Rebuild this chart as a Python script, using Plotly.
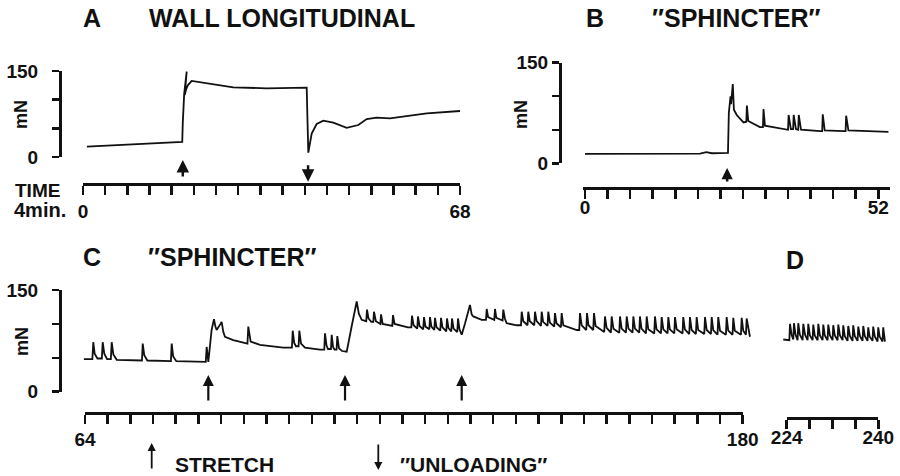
import plotly.graph_objects as go

W, H = 900, 476
FONT = "Liberation Sans, Arial, Helvetica, sans-serif"
INK = "#111111"

# ---------------- data (time in min, force in mN) ----------------
# A: wall longitudinal muscle
a_time = [0.7, 17.9, 18.0, 18.25, 18.7, 18.5, 18.35, 18.6, 18.9, 19.6,
          22.3, 27.1, 33.1, 39.1, 40.35, 40.5, 40.64, 41.25, 42.15, 43.34,
          45.15, 47.56, 49.66, 51.17, 52.98, 55.37, 58.39, 62.0, 68.0]
a_force = [18, 26.5, 60, 110, 149, 120, 108, 118, 125, 132.6,
           128.5, 121.5, 119.8, 119.8, 121, 60, 7.5, 41, 57.6, 63.3,
           60, 51, 55.8, 66.3, 68.6, 67.5, 71.5, 76.2, 80.2]
a_stretch = [18.0]
a_unload = [40.6]

# B: "sphincter"
b_time = [0.0, 20.4, 21.5, 22.5, 25.35, 25.5, 25.8, 25.9, 26.2, 26.4,
          26.9, 28.1, 28.6, 28.7, 28.95, 31.0, 31.55, 31.65, 31.9, 35.5,
          36.0, 36.1, 36.5, 36.9, 37.0, 37.4, 37.8, 37.9, 38.3, 41.7,
          42.05, 42.15, 42.5, 45.8, 46.2, 46.3, 46.7, 53.8]
b_force = [14, 14.5, 16.5, 15, 15.5, 75, 100, 88, 118, 80,
           72, 61, 62, 86, 63, 54, 54, 81, 56, 50,
           50, 72, 51, 51, 72, 51, 50, 72, 50, 48,
           48, 73, 49, 48, 48, 71, 49, 47]
b_stretch = [25.2]

# C: "sphincter", successive stretches
c_time = [63.8, 65.3, 65.46, 65.7, 66.2, 66.97, 67.12, 67.4, 67.9, 68.56, 68.71, 69.0, 69.6,
          74.05, 74.18, 74.45, 75.0, 79.15, 79.29, 79.55, 80.1, 85.3, 85.46, 85.6, 85.75,
          86.33, 86.75, 87.0, 87.22, 87.9, 88.1, 88.4, 88.69, 90.15, 92.65, 92.8, 93.05, 93.22, 94.86,
          98.97, 100.5, 100.63, 100.9, 101.21, 101.67, 101.8, 102.1, 102.8, 105.45, 106.2, 106.33,
          106.6, 106.86, 107.38, 107.51, 107.75, 108.0, 108.37, 108.5, 108.8, 109.33, 110.16,
          111.0, 111.92, 112.3, 112.8, 113.6, 113.74, 114.0, 114.5, 114.85, 114.97, 115.3, 116.1,
          116.21, 116.5, 118.2, 118.32, 118.6,
          120.97, 121.55, 121.67, 121.95, 122.6, 122.73, 123.0, 123.65, 123.79, 124.05, 124.73,
          124.85, 125.1, 125.6, 125.73, 126.0, 126.66, 126.79, 127.05, 127.72, 127.85, 128.1,
          128.6, 128.73, 129.0, 129.66, 129.79, 130.05, 130.44,
          131.0, 131.9, 132.2, 132.48, 133.97, 134.72, 134.85, 135.1, 136.18, 136.31,
          136.55, 137.65, 137.78, 138.05, 138.37, 140.14, 140.9, 141.02, 141.3, 142.05,
          142.18, 142.45, 143.24, 143.37, 143.65, 144.42, 144.55, 144.8, 145.58, 145.71,
          146.0, 146.76, 146.89, 147.15, 147.94, 148.07, 148.36,
          150.72, 151.17, 151.3, 151.6, 152.41, 152.54, 152.8, 153.64, 153.77, 154.05,
          155.58, 155.71, 156.0, 156.76, 156.89, 157.2, 158.23, 158.36, 158.65,
          159.41, 159.54, 159.85, 160.58, 160.71, 161.0, 161.75, 161.88, 162.15,
          162.94, 163.07, 163.35, 164.4, 164.53, 164.8, 165.58, 165.71, 166.0,
          166.75, 166.88, 167.15, 167.93, 168.06, 168.35, 169.39, 169.52, 169.8,
          170.57, 170.7, 171.0, 171.75, 171.88, 172.15, 173.22, 173.35, 173.65,
          174.4, 174.53, 174.8, 175.56, 175.69, 176.0, 177.04, 177.17, 177.45,
          178.21, 178.34, 178.6, 179.69, 179.82, 180.1, 180.57, 180.7, 181.0,
          181.28]
c_force = [48, 48, 73, 56, 49, 49, 73, 56, 48, 48, 73, 55, 47,
           46, 71, 54, 46, 45, 71, 52, 45, 44, 66, 47, 44,
           91, 107, 96, 91, 100, 103, 88, 81, 76, 71, 96, 78, 74, 69,
           65, 65, 90, 72, 67, 67, 90, 71, 65, 62, 62, 86,
           68, 63, 63, 84, 66, 62, 62, 82, 64, 60, 59,
           95, 133, 115, 106, 104, 121, 108, 103, 103, 118, 104, 100,
           114, 100, 97, 113, 100,
           95, 95, 112, 98, 93, 111, 97, 92, 110, 96, 92,
           110, 96, 91, 109, 95, 90, 109, 95, 89, 108, 94,
           89, 108, 93, 88, 108, 92, 84,
           100, 128, 114, 111, 106, 106, 122, 110, 106, 122,
           109, 105, 121, 108, 101, 98, 98, 118, 104, 98,
           118, 104, 98, 118, 104, 97, 118, 103, 97, 118,
           102, 96, 116, 101, 95, 116, 98,
           91, 91, 116, 98, 91, 116, 98, 91, 116, 97,
           88, 111, 94, 87, 111, 93, 87, 111, 93,
           87, 111, 93, 87, 111, 93, 87, 111, 93,
           86, 111, 92, 86, 111, 92, 86, 110, 92,
           86, 110, 92, 86, 110, 92, 86, 110, 92,
           85, 110, 91, 85, 110, 91, 85, 110, 91,
           85, 110, 91, 84, 110, 90, 84, 110, 90,
           84, 109, 90, 84, 109, 90, 84, 108, 90,
           81]
c_stretch = [85.75, 109.86, 130.44]

# D: later recording
d_time = [223.4,
          224.46, 224.58, 224.85, 225.15, 225.27, 225.55, 225.9, 226.02, 226.3,
          226.78, 226.9, 227.2, 227.65, 227.77, 228.05, 228.52, 228.64, 228.9,
          229.4, 229.52, 229.8, 230.27, 230.39, 230.65, 231.14, 231.26, 231.55,
          232.01, 232.13, 232.4, 232.89, 233.01, 233.3, 233.76, 233.88, 234.15,
          234.63, 234.75, 235.05, 235.5, 235.62, 235.9, 236.38, 236.5, 236.8,
          237.25, 237.37, 237.65, 238.12, 238.24, 238.5, 238.99, 239.11, 239.4,
          239.87, 239.99, 240.25, 240.74, 240.86, 241.16]
d_force = [77,
           76, 100, 84, 77, 101, 84, 76, 101, 84,
           76, 100, 84, 76, 100, 83, 76, 99, 83,
           76, 100, 83, 76, 99, 83, 76, 99, 83,
           76, 98, 83, 76, 99, 83, 76, 98, 82,
           75, 97, 82, 75, 98, 82, 75, 96, 82,
           75, 97, 82, 75, 95, 81, 75, 96, 81,
           74, 95, 81, 74, 95, 74]

a_ticks = list(range(0, 69, 4))
b_ticks = list(range(0, 53, 4))
c_ticks = list(range(64, 181, 4))
d_ticks = list(range(224, 241, 4))
force_ticks = [0, 50, 100, 150]
force_labels = ["0", "", "", "150"]


# ---------------- layout helpers (pixel geometry) ----------------
def fx(p):
    return p / W


def fy(p):
    return 1 - p / H


def span(lo, hi, p0, t0, p1, t1):
    k = (t1 - t0) / (p1 - p0)
    return [t0 + (lo - p0) * k, t0 + (hi - p0) * k]


def tick_text(vals):
    return [str(v) if i in (0, len(vals) - 1) else "" for i, v in enumerate(vals)]


def bold(size):
    return dict(family=FONT, size=size, color=INK, weight="bold")


def time_axis(p_lo, p_hi, rng, line_py, ticks, standoff):
    return dict(domain=[fx(p_lo), fx(p_hi)], range=rng, anchor="free", position=fy(line_py),
                showline=True, linecolor=INK, linewidth=3, ticks="outside", ticklen=9,
                tickwidth=2.5, tickcolor=INK, tickvals=ticks, ticktext=tick_text(ticks),
                tickfont=bold(19), ticklabelstandoff=standoff, showgrid=False,
                zeroline=False, fixedrange=True, automargin=False)


def force_axis(top_py, bot_py, line_px, standoff):
    return dict(domain=[fy(bot_py), fy(top_py)], range=[0, 150], anchor="free",
                position=fx(line_px), showline=True, linecolor=INK, linewidth=2.5,
                ticks="outside", ticklen=7, tickwidth=2.5, tickcolor=INK,
                tickvals=force_ticks, ticktext=force_labels, tickfont=bold(19),
                ticklabelstandoff=standoff, showgrid=False, zeroline=False,
                fixedrange=True, automargin=False)


def hidden_axis(p_lo, p_hi, rng):
    return dict(domain=[fx(p_lo), fx(p_hi)], range=rng, visible=False, anchor="free",
                position=0, fixedrange=True, automargin=False)


line_style = dict(color=INK, width=1.8)

fig = go.Figure()
fig.add_trace(go.Scatter(x=a_time, y=a_force, xaxis="x", yaxis="y", mode="lines", line=line_style))
fig.add_trace(go.Scatter(x=b_time, y=b_force, xaxis="x2", yaxis="y2", mode="lines", line=line_style))
fig.add_trace(go.Scatter(x=c_time, y=c_force, xaxis="x3", yaxis="y3", mode="lines", line=line_style))
fig.add_trace(go.Scatter(x=[c_ticks[0], c_ticks[-1]], y=[0, 0], xaxis="x4", yaxis="y3",
                         mode="markers", marker=dict(opacity=0)))
fig.add_trace(go.Scatter(x=d_time, y=d_force, xaxis="x5", yaxis="y3", mode="lines", line=line_style))
fig.add_trace(go.Scatter(x=[d_ticks[0], d_ticks[-1]], y=[0, 0], xaxis="x6", yaxis="y3",
                         mode="markers", marker=dict(opacity=0)))
fig.update_traces(hoverinfo="skip", showlegend=False)


def arrow(x, xref, head_py, dy, width=2.5, size=1.0):
    return dict(x=x, xref=xref, y=fy(head_py), yref="paper", ax=0, ay=dy, text="",
                showarrow=True, arrowhead=2, arrowsize=size, arrowwidth=width,
                arrowcolor=INK, standoff=0)


def label(text, px, py, size, xanchor="center", angle=0):
    return dict(text=text, x=fx(px), y=fy(py), xref="paper", yref="paper", xanchor=xanchor,
                yanchor="middle", showarrow=False, textangle=angle, font=bold(size))


ann = []
ann += [arrow(t, "x", 160, 18) for t in a_stretch]
ann += [arrow(t, "x", 181.7, -18) for t in a_unload]
ann += [arrow(t, "x2", 168, 15, width=2.5, size=0.9) for t in b_stretch]
ann += [arrow(t, "x3", 375, 27, width=2.2) for t in c_stretch]
ann += [arrow(fx(151.7), "paper", 443, 27, width=1.8, size=0.9),
        arrow(fx(378.3), "paper", 470, -27, width=1.8, size=0.9)]

ann += [
    label("A", 92, 18, 25), label("WALL LONGITUDINAL", 147, 18, 25, "left"),
    label("B", 595, 18, 25), label("″SPHINCTER″", 736, 18, 25),
    label("C", 92, 257, 25), label("″SPHINCTER″", 232, 257, 25),
    label("D", 795, 260, 25),
    label("mN", 21, 115, 18, angle=-90), label("mN", 521, 115, 18, angle=-90),
    label("mN", 22, 342, 18, angle=-90),
    label("TIME", 13, 190, 19, "left"), label("4min.", 12, 210, 20, "left"),
    label("STRETCH", 173, 464, 21, "left"), label("″UNLOADING″", 398, 464, 21, "left"),
]

fig.update_layout(
    template="none",
    width=W, height=H, margin=dict(l=0, r=0, t=0, b=0, pad=0, autoexpand=False), autosize=False,
    paper_bgcolor="white", plot_bgcolor="rgba(0,0,0,0)", showlegend=False, hovermode=False,
    xaxis=time_axis(83, 460, [0, 68], 184, a_ticks, 0),
    yaxis=force_axis(71, 157, 60, 10),
    xaxis2=time_axis(583, 890, span(583, 890, 585, 0, 878.3, 52), 188, b_ticks, -8),
    yaxis2=force_axis(62.7, 163.3, 560, 0),
    xaxis3=hidden_axis(78, 760, span(78, 760, 85, 64, 742.7, 180)),
    yaxis3=force_axis(290, 391.7, 60, 10),
    xaxis4=time_axis(85, 742.7, [64, 180], 413.3, c_ticks, -1),
    xaxis5=hidden_axis(778, 892, span(778, 892, 786.7, 224, 878.3, 240)),
    xaxis6=time_axis(786.7, 878.3, [224, 240], 418, d_ticks, -8),
    annotations=ann,
)

fig.write_html("out.html", config={"displayModeBar": False, "staticPlot": True},
               post_script="document.body.style.margin='0';document.body.style.overflow='hidden';")
